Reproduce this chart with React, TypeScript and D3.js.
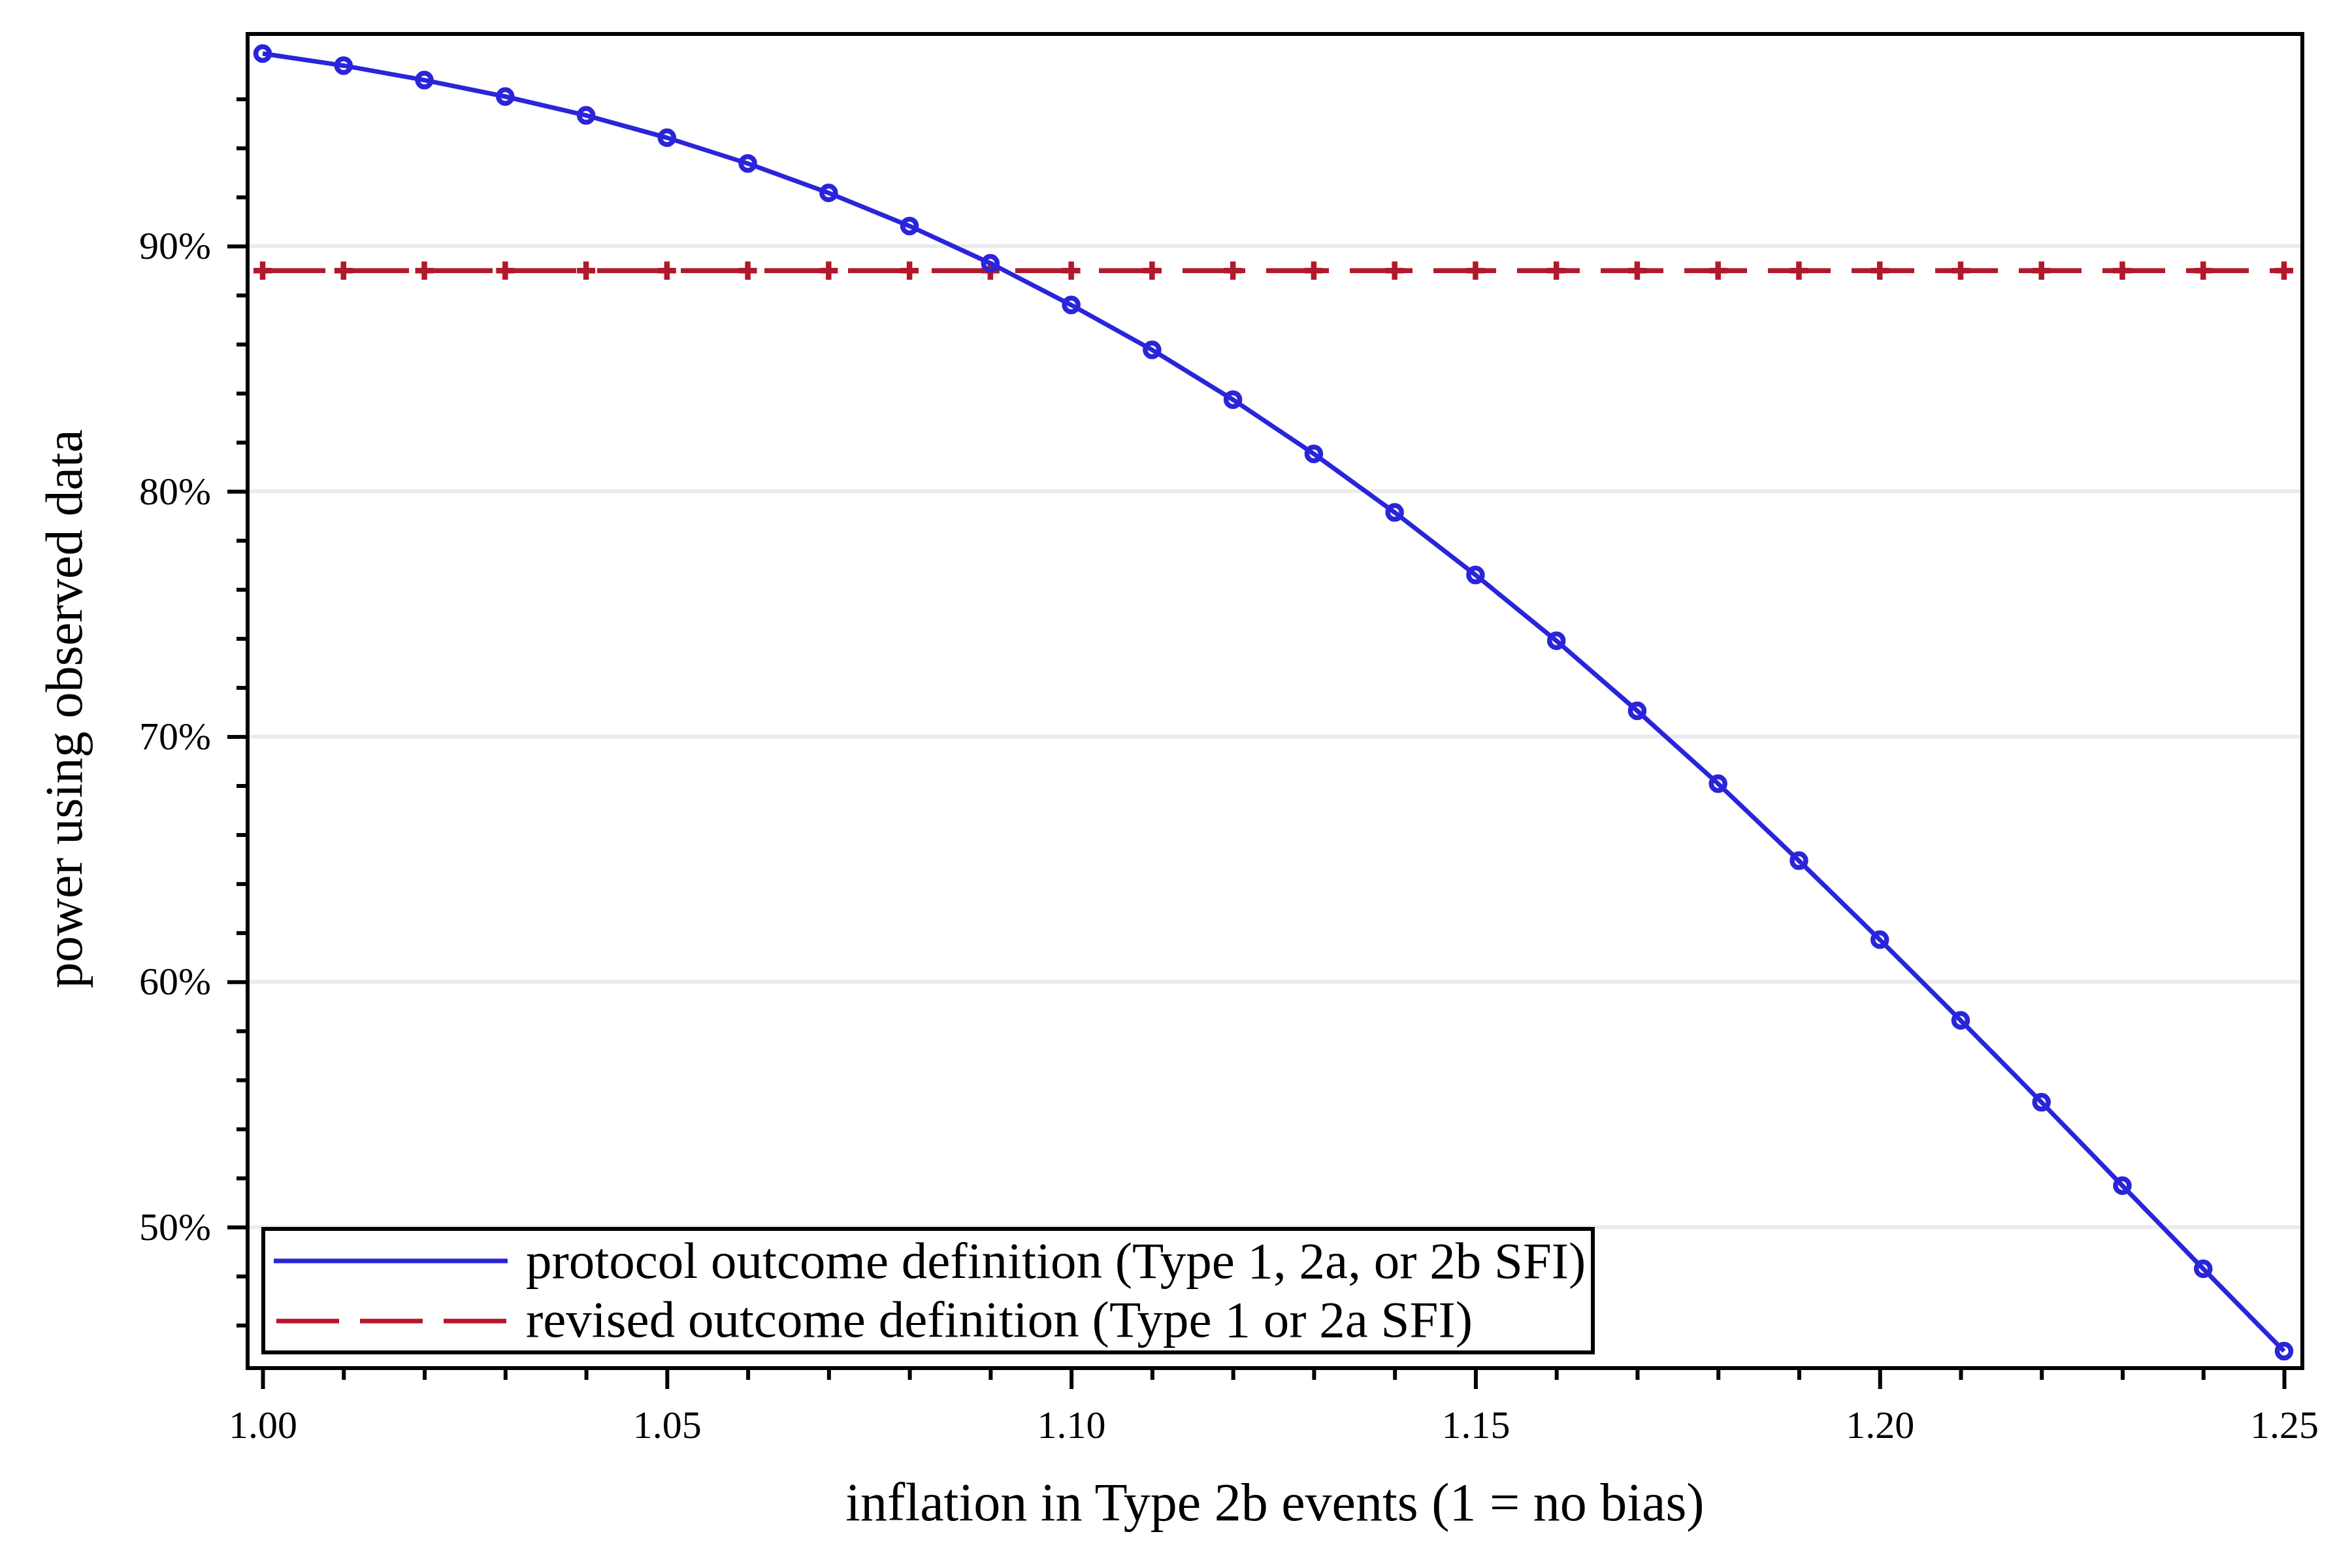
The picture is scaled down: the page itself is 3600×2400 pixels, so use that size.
import * as React from 'react'
import { useEffect, useRef } from 'react'
import * as d3 from 'd3'

// inflation factor applied to Type 2b events
const inflation = [
  1.00, 1.01, 1.02, 1.03, 1.04, 1.05, 1.06, 1.07, 1.08, 1.09,
  1.10, 1.11, 1.12, 1.13, 1.14, 1.15, 1.16, 1.17, 1.18, 1.19,
  1.20, 1.21, 1.22, 1.23, 1.24, 1.25,
]
// power (%) – protocol outcome definition
const protocolPower = [
  97.85, 97.36, 96.77, 96.10, 95.33, 94.42, 93.37, 92.17, 90.82, 89.30,
  87.60, 85.77, 83.74, 81.53, 79.14, 76.59, 73.91, 71.05, 68.08, 64.94,
  61.72, 58.43, 55.09, 51.69, 48.30, 44.94,
]
// power (%) – revised outcome definition
const revisedPower = [
  89.0, 89.0, 89.0, 89.0, 89.0, 89.0, 89.0, 89.0, 89.0, 89.0,
  89.0, 89.0, 89.0, 89.0, 89.0, 89.0, 89.0, 89.0, 89.0, 89.0,
  89.0, 89.0, 89.0, 89.0, 89.0, 89.0,
]
const xMajorTicks = [1.00, 1.05, 1.10, 1.15, 1.20, 1.25]
const xMinorTicks = [
  1.01, 1.02, 1.03, 1.04, 1.06, 1.07, 1.08, 1.09, 1.11, 1.12, 1.13, 1.14,
  1.16, 1.17, 1.18, 1.19, 1.21, 1.22, 1.23, 1.24,
]
const yMajorTicks = [50, 60, 70, 80, 90]
const yMinorTicks = [
  46, 48, 52, 54, 56, 58, 62, 64, 66, 68, 72, 74, 76, 78, 82, 84, 86, 88, 92, 94, 96,
]
const seriesNames = [
  'protocol outcome definition (Type 1, 2a, or 2b SFI)',
  'revised outcome definition (Type 1 or 2a SFI)',
]

const W = 3600
const H = 2400
const FONT = '"Liberation Serif", "Times New Roman", Times, serif'
const BLUE = '#2A25D9'
const RED = '#B2182B'

const plot = { left: 379, right: 3524, top: 52, bottom: 2094 }

const App = () => {
  const svgRef = useRef<SVGSVGElement | null>(null)

  useEffect(() => {
    const svg = d3.select(svgRef.current)
    svg.selectAll('*').remove()

    const x = d3.scaleLinear().domain([0.99814, 1.25226]).range([plot.left, plot.right])
    const y = d3.scaleLinear().domain([44.25, 98.65]).range([plot.bottom, plot.top])

    // gridlines
    svg.append('g')
      .selectAll('line')
      .data(yMajorTicks)
      .enter()
      .append('line')
      .attr('x1', plot.left).attr('x2', plot.right)
      .attr('y1', d => y(d)).attr('y2', d => y(d))
      .attr('stroke', '#ebebeb')
      .attr('stroke-width', 6)

    // revised (dashed + crosses)
    const line = d3.line<number>().x((d, i) => x(inflation[i])).y(d => y(d))
    svg.append('path')
      .datum(revisedPower)
      .attr('d', line)
      .attr('fill', 'none')
      .attr('stroke', RED)
      .attr('stroke-width', 7.5)
      .attr('stroke-dasharray', '96 32')
    svg.append('g')
      .selectAll('path')
      .data(revisedPower)
      .enter()
      .append('path')
      .attr('transform', (d, i) => `translate(${x(inflation[i])},${y(d)})`)
      .attr('d', 'M-14,0H14M0,-14V14')
      .attr('stroke', RED)
      .attr('stroke-width', 8.5)
      .attr('fill', 'none')

    // protocol (solid + circles)
    svg.append('path')
      .datum(protocolPower)
      .attr('d', line)
      .attr('fill', 'none')
      .attr('stroke', BLUE)
      .attr('stroke-width', 7)
    svg.append('g')
      .selectAll('circle')
      .data(protocolPower)
      .enter()
      .append('circle')
      .attr('cx', (d, i) => x(inflation[i]))
      .attr('cy', d => y(d))
      .attr('r', 10.5)
      .attr('fill', 'none')
      .attr('stroke', BLUE)
      .attr('stroke-width', 7.5)

    // axes
    const styleAxis = (g: d3.Selection<SVGGElement, unknown, null, undefined>) => {
      g.select('.domain').remove()
      g.selectAll('.tick line').attr('stroke', '#000').attr('stroke-width', 6)
      g.selectAll('.tick text')
        .attr('fill', '#000')
        .style('font-family', FONT)
        .style('font-size', '60px')
    }

    svg.append('g')
      .attr('transform', `translate(0,${plot.bottom})`)
      .call(d3.axisBottom(x).tickValues(xMajorTicks).tickSize(32).tickPadding(32).tickFormat(d3.format('.2f')))
      .call(styleAxis)
    svg.append('g')
      .attr('transform', `translate(0,${plot.bottom})`)
      .call(d3.axisBottom(x).tickValues(xMinorTicks).tickSize(18).tickFormat(() => ''))
      .call(styleAxis)
    svg.append('g')
      .attr('transform', `translate(${plot.left},0)`)
      .call(d3.axisLeft(y).tickValues(yMajorTicks).tickSize(31).tickPadding(25).tickFormat(d => `${d}%`))
      .call(styleAxis)
    svg.append('g')
      .attr('transform', `translate(${plot.left},0)`)
      .call(d3.axisLeft(y).tickValues(yMinorTicks).tickSize(17).tickFormat(() => ''))
      .call(styleAxis)

    // frame
    svg.append('rect')
      .attr('x', plot.left).attr('y', plot.top)
      .attr('width', plot.right - plot.left).attr('height', plot.bottom - plot.top)
      .attr('fill', 'none')
      .attr('stroke', '#000')
      .attr('stroke-width', 6)

    // axis titles
    svg.append('text')
      .attr('x', (plot.left + plot.right) / 2)
      .attr('y', 2327)
      .attr('text-anchor', 'middle')
      .style('font-family', FONT)
      .style('font-size', '82px')
      .text('inflation in Type 2b events (1 = no bias)')
    svg.append('text')
      .attr('transform', 'translate(125,1085) rotate(-90)')
      .attr('text-anchor', 'middle')
      .style('font-family', FONT)
      .style('font-size', '80px')
      .text('power using observed data')

    // legend
    const legend = svg.append('g')
    legend.append('rect')
      .attr('x', 403).attr('y', 1881)
      .attr('width', 2035).attr('height', 189)
      .attr('fill', '#fff')
      .attr('stroke', '#000')
      .attr('stroke-width', 6)
    legend.append('line')
      .attr('x1', 419).attr('x2', 777).attr('y1', 1930).attr('y2', 1930)
      .attr('stroke', BLUE).attr('stroke-width', 7)
    legend.append('line')
      .attr('x1', 423).attr('x2', 775).attr('y1', 2022).attr('y2', 2022)
      .attr('stroke', RED).attr('stroke-width', 7)
      .attr('stroke-dasharray', '96 32')
    legend.selectAll('text.label')
      .data(seriesNames)
      .enter()
      .append('text')
      .attr('class', 'label')
      .attr('x', 805)
      .attr('y', (d, i) => 1956 + i * 90)
      .style('font-family', FONT)
      .style('font-size', '79px')
      .text(d => d)
  }, [])

  return (
    <svg
      ref={svgRef}
      width={W}
      height={H}
      viewBox={`0 0 ${W} ${H}`}
      style={{ position: 'absolute', left: 0, top: 0, background: '#fff' }}
    />
  )
}

export default App
